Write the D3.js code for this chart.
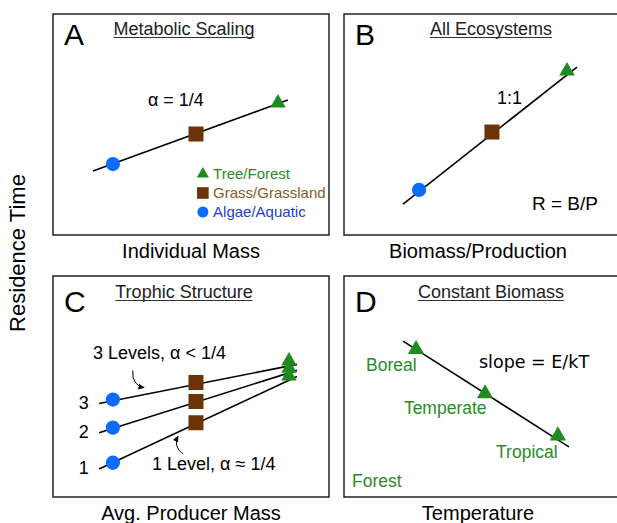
<!DOCTYPE html>
<html>
<head>
<meta charset="utf-8">
<script src="https://cdn.jsdelivr.net/npm/d3@7"></script>
<style>
  body { margin: 0; background: #fff; }
  svg { display: block; font-family: "Liberation Sans", Arial, Helvetica, sans-serif; }
</style>
</head>
<body>
<svg id="chart" width="617" height="523"></svg>
<script>
// ---------------------------//
//       DATA                 //
// ---------------------------//
// schematic values in panel units (0-100 on both axes)
var panelLetters = ["A", "B", "C", "D"]
var panelTitles = ["Metabolic Scaling", "All Ecosystems", "Trophic Structure", "Constant Biomass"]
var xLabels = ["Individual Mass", "Biomass/Production", "Avg. Producer Mass", "Temperature"]
var yLabel = "Residence Time"

var producers = ["Algae/Aquatic", "Grass/Grassland", "Tree/Forest"]
var producerShapes = ["circle", "square", "triangle"]

// A: metabolic scaling
var aX = [21.7, 51.8, 81.5]
var aY = [32.1, 45.7, 59.7]
var aLineX = [14.5, 85.1]
var aLineY = [29.0, 61.1]

// B: all ecosystems
var bX = [27.2, 53.6, 80.8]
var bY = [20.4, 46.6, 74.2]
var bLineX = [21.4, 84.4]
var bLineY = [14.0, 76.0]

// C: trophic structure (3, 2, 1 levels)
var trophicLevels = ["3", "2", "1"]
var cX = [21.7, 51.8, 85.5]
var cY = [[44.1, 51.8, 61.5], [31.4, 43.2, 58.3], [15.5, 33.6, 54.7]]
var cLineX = [16.7, 88.4]
var cLineY = [[42.3, 60.0], [29.1, 57.3], [12.7, 54.5]]

// D: constant biomass forests
var biomes = ["Boreal", "Temperate", "Tropical"]
var dX = [26.1, 51.1, 77.5]
var dY = [66.8, 46.8, 27.7]
var dLineX = [21.4, 81.5]
var dLineY = [70.5, 22.7]

var colors = { triangle: "#1f8a1f", square: "#6b3307", circle: "#0b6cff" }
var legendColors = ["#1b3fcc", "#8a5a20", "#2a8a2a"]

// ---------------------------//
//       LAYOUT               //
// ---------------------------//
var panelW = 276, panelH = 221
var layout = [
  { x0: 53, y0: 14, letterY: 45, titleY: 35 },
  { x0: 344, y0: 14, letterY: 45, titleY: 35 },
  { x0: 53, y0: 276, letterY: 312, titleY: 298 },
  { x0: 344, y0: 276, letterY: 312, titleY: 298 }
]

var svg = d3.select("#chart")

function scales(p) {
  return {
    x: d3.scaleLinear().domain([0, 100]).range([p.x0, p.x0 + panelW]),
    y: d3.scaleLinear().domain([0, 100]).range([p.y0 + panelH, p.y0])
  }
}

var symbolType = { circle: d3.symbolCircle, square: d3.symbolSquare, triangle: d3.symbolTriangle }
var symbolSize = { circle: 160, square: 225, triangle: 105 }

function marker(g, shape, x, y, scale) {
  var k = scale || 1
  g.append("path")
    .attr("d", d3.symbol().type(symbolType[shape]).size(symbolSize[shape] * k)())
    .attr("transform", "translate(" + x + "," + y + ")")
    .attr("fill", colors[shape])
}

function lineSeg(g, s, xs, ys) {
  g.append("path")
    .attr("d", d3.line()(xs.map(function(v, i) { return [s.x(v), s.y(ys[i])] })))
    .attr("stroke", "#000")
    .attr("stroke-width", 1.6)
    .attr("fill", "none")
}

function label(g, txt, x, y, opts) {
  var o = opts || {}
  return g.append("text")
    .attr("x", x).attr("y", y)
    .attr("text-anchor", o.anchor || "start")
    .style("font-size", (o.size || 18) + "px")
    .style("font-family", o.family || null)
    .attr("fill", o.fill || "#000")
    .text(txt)
}

// ---------------------------//
//       FRAMES & TITLES      //
// ---------------------------//
layout.forEach(function(p, i) {
  var g = svg.append("g")
  g.append("rect")
    .attr("x", p.x0).attr("y", p.y0)
    .attr("width", panelW).attr("height", panelH)
    .attr("fill", "none").attr("stroke", "#222").attr("stroke-width", 1.5)

  label(g, panelLetters[i], p.x0 + 11, p.letterY, { size: 30 })

  var cx = p.x0 + (i % 2 == 0 ? 131 : 147)
  var t = label(g, panelTitles[i], cx, p.titleY, { size: 18, anchor: "middle", fill: "#222" })
  var w = t.node().getComputedTextLength()
  g.append("line")
    .attr("x1", cx - w / 2).attr("x2", cx + w / 2)
    .attr("y1", p.titleY + 2.5).attr("y2", p.titleY + 2.5)
    .attr("stroke", "#333").attr("stroke-width", 1)

  label(g, xLabels[i], p.x0 + panelW / 2 + (i % 2 == 0 ? 0 : -4), p.y0 + panelH + 23, { size: 20, anchor: "middle" })
})

svg.append("text")
  .attr("transform", "translate(25,253) rotate(-90)")
  .attr("text-anchor", "middle")
  .style("font-size", "22px")
  .text(yLabel)

// ---------------------------//
//       PANEL A              //
// ---------------------------//
var gA = svg.append("g"), sA = scales(layout[0])
lineSeg(gA, sA, aLineX, aLineY)
producers.forEach(function(d, i) {
  marker(gA, producerShapes[i], sA.x(aX[i]), sA.y(aY[i]))
})
label(gA, "\u03b1 = 1/4", sA.x(34.4), sA.y(58.4), { size: 18 })

// legend (tree first)
producers.slice().reverse().forEach(function(d, j) {
  var i = producers.length - 1 - j
  var yy = sA.y(27.6) + j * 19
  marker(gA, producerShapes[i], sA.x(54.3), yy, 0.6)
  label(gA, d, sA.x(58.0), yy + 5, { size: 15, fill: legendColors[i] })
})

// ---------------------------//
//       PANEL B              //
// ---------------------------//
var gB = svg.append("g"), sB = scales(layout[1])
lineSeg(gB, sB, bLineX, bLineY)
producers.forEach(function(d, i) {
  marker(gB, producerShapes[i], sB.x(bX[i]), sB.y(bY[i]))
})
label(gB, "1:1", sB.x(55.4), sB.y(59.3), { size: 18 })
label(gB, "R = B/P", sB.x(68.1), sB.y(11.3), { size: 19 })

// ---------------------------//
//       PANEL C              //
// ---------------------------//
var gC = svg.append("g"), sC = scales(layout[2])
trophicLevels.forEach(function(lv, k) {
  lineSeg(gC, sC, cLineX, cLineY[k])
  label(gC, lv, sC.x(13.0), sC.y(cLineY[k][0]) + 5, { size: 18, anchor: "end" })
})
trophicLevels.forEach(function(lv, k) {
  producers.forEach(function(d, i) {
    if (i < 2) marker(gC, producerShapes[i], sC.x(cX[i]), sC.y(cY[k][i]))
  })
})
trophicLevels.forEach(function(lv, k) {
  marker(gC, "triangle", sC.x(cX[2]), sC.y(cY[k][2]))
})
label(gC, "3 Levels, \u03b1 < 1/4", sC.x(14.5), sC.y(62.3), { size: 18 })
label(gC, "1 Level, \u03b1 \u2248 1/4", sC.x(35.9), sC.y(12.3), { size: 18 })

// curved pointer arrows
var arrowPaths = [
  { from: [28.9, 57.3], ctrl: [28.5, 50.5], to: [33.0, 49.5] },
  { from: [47.0, 19.5], ctrl: [43.5, 23.0], to: [45.3, 27.5] }
]
svg.append("defs").append("marker")
  .attr("id", "head").attr("viewBox", "0 0 10 10")
  .attr("refX", 8).attr("refY", 5)
  .attr("markerWidth", 7).attr("markerHeight", 7)
  .attr("orient", "auto")
  .append("path").attr("d", "M0,1 L9,5 L0,9 z").attr("fill", "#000")
arrowPaths.forEach(function(a) {
  var p = d3.path()
  p.moveTo(sC.x(a.from[0]), sC.y(a.from[1]))
  p.quadraticCurveTo(sC.x(a.ctrl[0]), sC.y(a.ctrl[1]), sC.x(a.to[0]), sC.y(a.to[1]))
  gC.append("path").attr("d", p.toString())
    .attr("fill", "none").attr("stroke", "#000").attr("stroke-width", 1)
    .attr("marker-end", "url(#head)")
})

// ---------------------------//
//       PANEL D              //
// ---------------------------//
var gD = svg.append("g"), sD = scales(layout[3])
lineSeg(gD, sD, dLineX, dLineY)
var biomeLabelPos = [[8.0, 56.8], [21.7, 37.7], [55.1, 17.7]]
biomes.forEach(function(b, i) {
  marker(gD, "triangle", sD.x(dX[i]), sD.y(dY[i]), 1.1)
  label(gD, b, sD.x(biomeLabelPos[i][0]), sD.y(biomeLabelPos[i][1]), { size: 17.5, fill: "#2a8a2a" })
})
label(gD, "Forest", sD.x(2.9), sD.y(4.5), { size: 17.5, fill: "#2a8a2a" })
label(gD, "slope = E/kT", sD.x(48.9), sD.y(58.2), { size: 17.5, family: "'DejaVu Sans', sans-serif" })
</script>
</body>
</html>
